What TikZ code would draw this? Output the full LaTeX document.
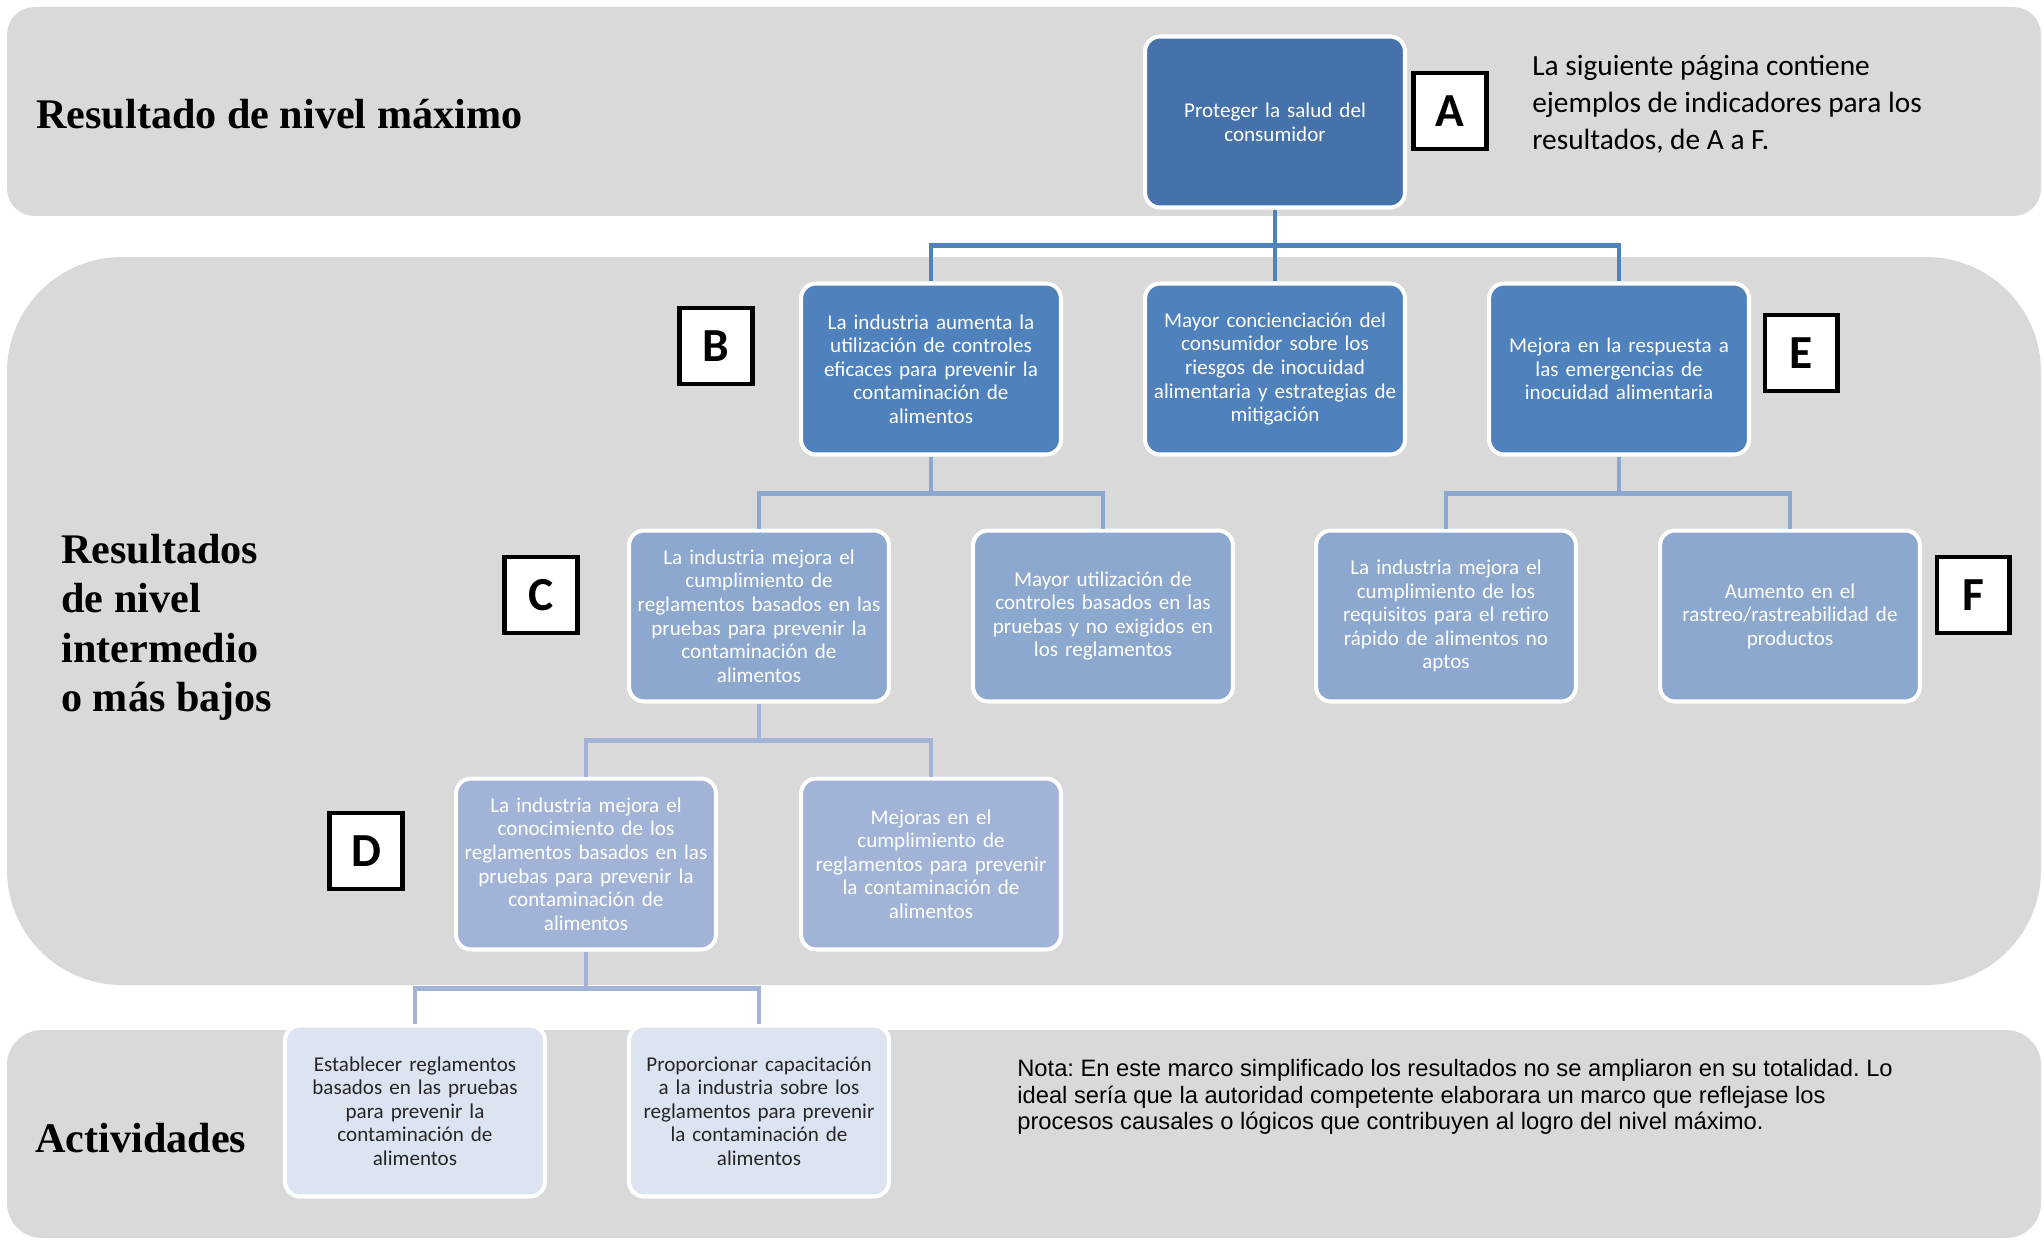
\documentclass[tikz,border=0pt]{standalone}
\usepackage{fontspec}
\setmainfont{Liberation Serif}
\newfontfamily\boxfont{Carlito}
\newfontfamily\notefont{Liberation Sans}
\usetikzlibrary{calc}
\frenchspacing

\definecolor{panelgray}{HTML}{D9D9D9}
\definecolor{topblue}{HTML}{4672AB}
\definecolor{midblue}{HTML}{4F81BD}
\definecolor{lowblue}{HTML}{8CA8CF}
\definecolor{paleblue}{HTML}{A1B4D7}
\definecolor{actblue}{HTML}{DCE4F1}
\definecolor{acttext}{HTML}{262626}

\tikzset{
	outcome/.style={draw=white, line width=2.3pt, rounded corners=0.3cm, minimum width=5.2cm, minimum height=3.42cm, text width=4.9cm, align=center, inner sep=0pt, text=white, font=\boxfont\fontsize{12}{13.4}\selectfont},
	letterbox/.style={draw=black, fill=white, line width=2.6pt, minimum width=1.45cm, minimum height=1.52cm, inner sep=0pt, font=\boxfont\bfseries\fontsize{27}{30}\selectfont},
	leveltitle/.style={inner sep=0pt, align=left, font=\bfseries\fontsize{24}{28}\selectfont},
	link/.style={line width=2.8pt},
}

\begin{document}
\begin{tikzpicture}[x=0.02cm, y=-0.02cm]
		%%%%% START %%%%%
		\useasboundingbox (0, 0) rectangle (2044, 1240);
		
		\fill[panelgray, rounded corners=0.55cm] (7, 7) rectangle (2041, 216);
		\fill[panelgray, rounded corners=2.3cm] (7, 257) rectangle (2041, 985);
		\fill[panelgray, rounded corners=0.7cm] (7, 1030) rectangle (2041, 1238);
		
		\node[leveltitle, anchor=base west] (tmax) at (36, 129) {Resultado de nivel máximo};
		\node[leveltitle, anchor=north west] (tmid) at (61, 534) {Resultados\\de nivel\\intermedio\\o más bajos};
		\node[leveltitle, anchor=base west] (tact) at (35, 1152) {Actividades};
		
		% top level
		\node[outcome, fill=topblue] (prot) at (1275, 122) {Proteger la salud del\\consumidor};
		\node[letterbox] (la) at (1450, 111) {A};
		\node[anchor=west, align=left, inner sep=0pt, font=\boxfont\fontsize{16.7}{21}\selectfont] (hint) at (1532, 104) {La siguiente página contiene\\ejemplos de indicadores para los\\resultados, de A a F.};
		
		% intermediate
		\node[outcome, fill=midblue] (ctrl) at (931, 369) {La industria aumenta la\\utilización de controles\\eficaces para prevenir la\\contaminación de\\alimentos};
		\node[outcome, fill=midblue] (conc) at (1275, 369) {Mayor concienciación del\\consumidor sobre los\\riesgos de inocuidad\\alimentaria y estrategias de\\mitigación};
		\node[outcome, fill=midblue] (resp) at (1619, 369) {Mejora en la respuesta a\\las emergencias de\\inocuidad alimentaria};
		\node[letterbox] (lb) at (716, 346) {B};
		\node[letterbox] (le) at (1801, 353) {E};
		
		\node[outcome, fill=lowblue] (cump) at (759, 616) {La industria mejora el\\cumplimiento de\\reglamentos basados en las\\pruebas para prevenir la\\contaminación de\\alimentos};
		\node[outcome, fill=lowblue] (util) at (1103, 616) {Mayor utilización de\\controles basados en las\\pruebas y no exigidos en\\los reglamentos};
		\node[outcome, fill=lowblue] (reti) at (1446, 616) {La industria mejora el\\cumplimiento de los\\requisitos para el retiro\\rápido de alimentos no\\aptos};
		\node[outcome, fill=lowblue] (rast) at (1790, 616) {Aumento en el\\rastreo/rastreabilidad de\\productos};
		\node[letterbox] (lc) at (541, 595) {C};
		\node[letterbox] (lf) at (1973, 595) {F};
		
		\node[outcome, fill=paleblue] (cono) at (586, 864) {La industria mejora el\\conocimiento de los\\reglamentos basados en las\\pruebas para prevenir la\\contaminación de\\alimentos};
		\node[outcome, fill=paleblue] (mejo) at (931, 864) {Mejoras en el\\cumplimiento de\\reglamentos para prevenir\\la contaminación de\\alimentos};
		\node[letterbox] (ld) at (366, 851) {D};
		
		% activities
		\node[outcome, fill=actblue, text=acttext] (esta) at (415, 1111) {Establecer reglamentos\\basados en las pruebas\\para prevenir la\\contaminación de\\alimentos};
		\node[outcome, fill=actblue, text=acttext] (capa) at (759, 1111) {Proporcionar capacitación\\a la industria sobre los\\reglamentos para prevenir\\la contaminación de\\alimentos};
		
		\node[anchor=west, align=left, inner sep=0pt, font=\notefont\fontsize{13.5}{15.2}\selectfont] (nota) at (1017, 1097) {Nota: En este marco simplificado los resultados no se ampliaron en su totalidad. Lo\\ideal sería que la autoridad competente elaborara un marco que reflejase los\\procesos causales o lógicos que contribuyen al logro del nivel máximo.};
		
		% links
		\foreach \kid in {ctrl, conc, resp}
			\draw[link, midblue] (prot.south) -- ++(0, 36) -| (\kid.north);
		\foreach \kid in {cump, util}
			\draw[link, lowblue] (ctrl.south) -- ++(0, 37) -| (\kid.north);
		\foreach \kid in {reti, rast}
			\draw[link, lowblue] (resp.south) -- ++(0, 37) -| (\kid.north);
		\foreach \kid in {cono, mejo}
			\draw[link, paleblue] (cump.south) -- ++(0, 37) -| (\kid.north);
		\foreach \kid in {esta, capa}
			\draw[link, paleblue] (cono.south) -- ++(0, 37) -| (\kid.north);
		%%%%% END %%%%%
\end{tikzpicture}
\end{document}
